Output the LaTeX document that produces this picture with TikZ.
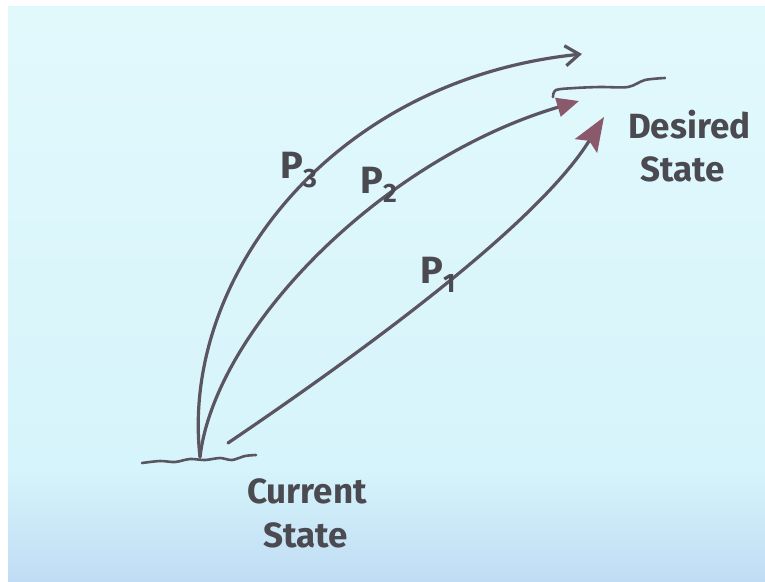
\documentclass[tikz,border=0pt]{standalone}
\usepackage{fontspec}
\setmainfont{Fira Sans}
\usetikzlibrary{arrows.meta}
\definecolor{bgtop}{HTML}{E2F9FC}
\definecolor{bgmid}{HTML}{D6F4FB}
\definecolor{bgbot}{HTML}{C0DCF4}
\definecolor{ink}{HTML}{5A5560}
\definecolor{headc}{HTML}{8A5A6C}
\definecolor{txt}{HTML}{4A4A50}
\begin{document}
\begin{tikzpicture}[x=1pt,y=-1pt, line cap=round, line join=round,
  inkline/.style={draw=ink, line width=3.2pt},
  baseline/.style={draw=ink, line width=2.6pt},
  lbl/.style={text=txt, font=\bfseries\fontsize{35}{37}\selectfont, inner sep=0pt, anchor=base west},
  plbl/.style={text=txt, font=\bfseries\fontsize{38}{40}\selectfont, inner sep=0pt, anchor=base west}]
\fill[white] (0,0) rectangle (765,581);
\shade[top color=bgtop, bottom color=bgmid] (8,6) rectangle (765,470);
\shade[top color=bgmid, bottom color=bgbot] (8,470) rectangle (765,581);
\useasboundingbox (0,0) rectangle (765,581);

% end points
\coordinate (cs) at (200,457);
\coordinate (p1s) at (228,443);
\coordinate (ds3) at (582,54);
\coordinate (ds2) at (579,101);
\coordinate (ds1) at (604,117);

% baselines
\draw[baseline] plot[smooth] coordinates {(142,463) (160,461) (175,462) (190,459) (205,460) (220,458) (232,460) (245,456) (256,455)};
\draw[baseline] plot[smooth] coordinates {(553,97) (556,90) (575,88) (600,87) (628,87) (645,80) (665,78)};

% paths
\draw[inkline, -{Straight Barb[length=14pt,width=20pt]}] (cs) .. controls (180,280) and (330,80) .. (ds3);
\draw[inkline, -{Triangle[length=22pt,width=19pt,color=headc]}] (cs) .. controls (215,330) and (380,160) .. (ds2);
\draw[inkline, -{Stealth[length=34pt,width=26pt,inset=6pt,color=headc]}] (p1s) .. controls (380,340) and (540,220) .. (ds1);

% labels
\node[plbl] (p3) at (280,178) {P\textsubscript{3}};
\node[plbl] (p2) at (360,193) {P\textsubscript{2}};
\node[plbl] (p1) at (420,283) {P\textsubscript{1}};
\node[lbl] (desired) at (628,138) {Desired};
\node[lbl] (dstate) at (640,181) {State};
\node[lbl] (current) at (247,503) {Current};
\node[lbl] (cstate) at (263,547) {State};
\end{tikzpicture}
\end{document}
